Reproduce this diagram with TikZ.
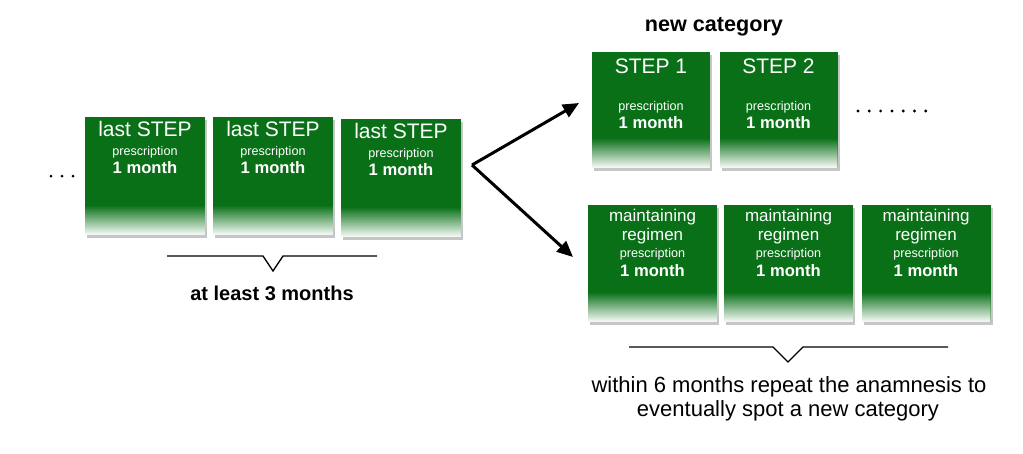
\documentclass[tikz,border=0pt]{standalone}
\usepackage{fontspec}
\setmainfont{Liberation Sans}
\usetikzlibrary{arrows.meta}
\usetikzlibrary{shadows}
\definecolor{boxgreen}{RGB}{10,112,24}
\tikzset{stepbox/.style={draw=none,fill=boxgreen,inner sep=0pt,minimum width=120pt,minimum height=118pt,
    drop shadow={shadow xshift=2pt,shadow yshift=-2.5pt,opacity=0.45},
    path picture={\foreach \k in {0,...,29}{\pgfmathsetmacro\c{5+95*\k/29}
      \fill[boxgreen!\c!white] ([yshift=\k pt]path picture bounding box.south west)
        rectangle ([yshift=\k pt+1.2pt]path picture bounding box.south east);}}}}
\tikzset{widebox/.style={stepbox,minimum width=129pt,minimum height=117pt}}
\tikzset{ti/.style={text=white,anchor=base,inner sep=0pt,font=\fontsize{21}{21}\selectfont}}
\tikzset{re/.style={text=white,anchor=base,inner sep=0pt,font=\fontsize{17}{17}\selectfont}}
\tikzset{pr/.style={text=white,anchor=base,inner sep=0pt,font=\fontsize{12.6}{12.6}\selectfont}}
\tikzset{mo/.style={text=white,anchor=base,inner sep=0pt,font=\bfseries\fontsize{16.6}{16.6}\selectfont}}
\tikzset{caption/.style={anchor=base,inner sep=0pt,font=\fontsize{22}{22}\selectfont}}

\begin{document}
\begin{tikzpicture}[x=1pt,y=-1pt]
        \useasboundingbox (0,0) rectangle (1023,453);
        % last steps
        \node[stepbox] (L1) at (145,176) {};
        \node[stepbox] (L2) at (273,176) {};
        \node[stepbox] (L3) at (401,178) {};
        \node[ti] at ([yshift=-20pt]L1.north) {last STEP};
        \node[pr] at ([yshift=-39pt]L1.north) {prescription};
        \node[mo] at ([yshift=-57pt]L1.north) {1 month};
        \node[ti] at ([yshift=-20pt]L2.north) {last STEP};
        \node[pr] at ([yshift=-39pt]L2.north) {prescription};
        \node[mo] at ([yshift=-57pt]L2.north) {1 month};
        \node[ti] at ([yshift=-20pt]L3.north) {last STEP};
        \node[pr] at ([yshift=-39pt]L3.north) {prescription};
        \node[mo] at ([yshift=-57pt]L3.north) {1 month};
        \foreach \i in {0,1,2} \fill (51+11*\i,176) circle (1.5pt);
        \draw[line width=1.3pt] (167,256) -- (263,256) -- (273,271) -- (283,256) -- (377,256);
        \node[caption,font=\bfseries\fontsize{20}{20}\selectfont] (least) at (272,300) {at least 3 months};
        % new category
        \node[caption,font=\bfseries\fontsize{21.6}{21.6}\selectfont] (new) at (714,31) {new category};
        \node[stepbox,minimum width=118pt,minimum height=116pt] (S1) at (651,110) {};
        \node[stepbox,minimum width=118pt,minimum height=116pt] (S2) at (778.5,110) {};
        \node[ti] at ([yshift=-22pt]S1.north) {STEP 1};
        \node[pr] at ([yshift=-59pt]S1.north) {prescription};
        \node[mo] at ([yshift=-77pt]S1.north) {1 month};
        \node[ti] at ([yshift=-22pt]S2.north) {STEP 2};
        \node[pr] at ([yshift=-59pt]S2.north) {prescription};
        \node[mo] at ([yshift=-77pt]S2.north) {1 month};
        \foreach \i in {0,...,6} \fill (858+11.3*\i,111) circle (1.6pt);
        % maintaining regimen
        \node[widebox] (M1) at (652.5,263.5) {};
        \node[widebox] (M2) at (788.5,263.5) {};
        \node[widebox] (M3) at (926,263.5) {};
        \foreach \m in {M1,M2,M3} {
          \node[re] at ([yshift=-17pt]\m.north) {maintaining};
          \node[re] at ([yshift=-36pt]\m.north) {regimen};
          \node[pr] at ([yshift=-53pt]\m.north) {prescription};
          \node[mo] at ([yshift=-72pt]\m.north) {1 month};
        }
        \draw[line width=1.3pt] (629,347) -- (773,347) -- (788,362) -- (803,347) -- (948,347);
        \node[caption] (w1) at (789,392) {within 6 months repeat the anamnesis to};
        \node[caption] (w2) at (788,416) {eventually spot a new category};
        % fork
        \coordinate (fork) at (472,165);
        \coordinate (up) at (579,103);
        \coordinate (dn) at (573,257);
        \draw[line width=3pt,-{Triangle[length=16pt,width=14pt]}] (fork) -- (up);
        \draw[line width=3pt,-{Triangle[length=16pt,width=14pt]}] (fork) -- (dn);
      \end{tikzpicture}
\end{document}
